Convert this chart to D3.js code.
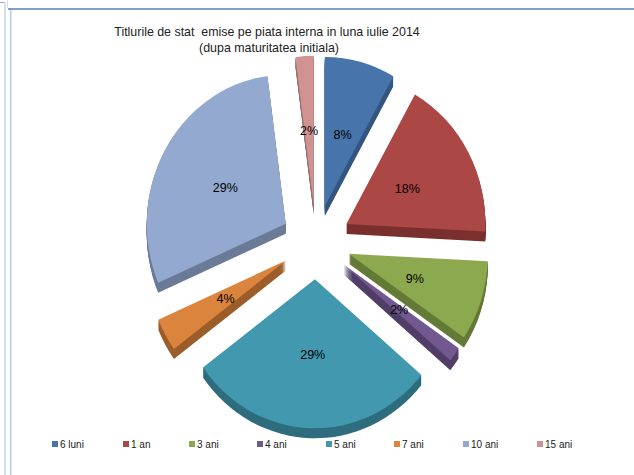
<!DOCTYPE html>
<html>
<head>
<meta charset="utf-8">
<script src="https://cdn.jsdelivr.net/npm/d3@7"></script>
<style>
  body { margin: 0; background: #fff; }
  svg { display: block; font-family: "Liberation Sans", Arial, sans-serif; fill: #000; }
</style>
</head>
<body>
<svg id="chart" width="634" height="475"></svg>
<script>
const categories = ["6 luni", "1 an", "3 ani", "4 ani", "5 ani", "7 ani", "10 ani", "15 ani"];
const shares = [8.2, 17.6, 8.7, 1.6, 28.8, 3.6, 29.4, 2.1];
const topColors = ["#4674ab", "#ab4744", "#8da94f", "#71588f", "#4198af", "#db843d", "#93a9cf", "#d19392"];
const wallColors = ["#345680", "#7a302e", "#647a37", "#513e68", "#2f6d7e", "#9c5e2b", "#6b7b98", "#957070"];
const titleLines = ["Titlurile de stat  emise pe piata interna in luna iulie 2014", "(dupa maturitatea initiala)"];
const legendX = [52, 123, 189, 257, 326, 394, 463, 537];

const cx = 316;
const cy = 242;
const radiusY = 149;
const squash = 139 / 149;
const explode = 0.25;
const depth = 10;

const svg = d3.select("#chart");

// page frame behind the chart
const frame = svg.append("g").attr("fill", "none");
frame.append("path").attr("d", "M0 2.5H5").attr("stroke", "#8fabd6");
frame.append("rect").attr("x", 4).attr("y", 2).attr("width", 2).attr("height", 473).attr("fill", "#d3dff2");
frame.append("rect").attr("x", 7).attr("y", 0).attr("width", 1).attr("height", 8).attr("fill", "#d3dff2");
frame.append("rect").attr("x", 8).attr("y", 8).attr("width", 626).attr("height", 2).attr("fill", "#7f9fd0");
frame.append("rect").attr("x", 10).attr("y", 10).attr("width", 1.5).attr("height", 465).attr("fill", "#b8cbe9");

svg.append("g")
  .selectAll("text")
  .data(titleLines)
  .join("text")
  .attr("x", (d, i) => (i == 0 ? 267 : 269))
  .attr("y", (d, i) => 36 + i * 15.5)
  .attr("text-anchor", "middle")
  .attr("font-size", 12.4)
  .attr("fill", "#222")
  .attr("xml:space", "preserve")
  .text(d => d);

const pie = d3.pie().sort(null).value(d => d);
const arcs = pie(shares);
const arc = d3.arc().innerRadius(0).outerRadius(radiusY);
const percent = d3.format(".0%");
const total = d3.sum(shares);

const slices = svg.append("g")
  .selectAll("g")
  .data(arcs)
  .join("g")
  .attr("transform", d => {
    const mid = (d.startAngle + d.endAngle) / 2;
    const dx = Math.sin(mid) * radiusY * explode * squash;
    const dy = -Math.cos(mid) * radiusY * explode;
    return `translate(${cx + dx},${cy + dy}) scale(${squash},1)`;
  });

// the side walls: same slice stacked downward, darkest first
slices.each(function (d, i) {
  const g = d3.select(this);
  for (let k = depth; k > 0; k--) {
    g.append("path")
      .attr("d", arc(d))
      .attr("transform", `translate(0,${k})`)
      .attr("fill", wallColors[i]);
  }
  g.append("path")
    .attr("d", arc(d))
    .attr("fill", topColors[i]);
});

svg.append("g")
  .selectAll("text")
  .data(arcs)
  .join("text")
  .attr("x", d => {
    const mid = (d.startAngle + d.endAngle) / 2;
    return cx + Math.sin(mid) * radiusY * squash * (explode + 0.5);
  })
  .attr("y", d => {
    const mid = (d.startAngle + d.endAngle) / 2;
    return cy - Math.cos(mid) * radiusY * (explode + 0.5) + 5;
  })
  .attr("text-anchor", "middle")
  .attr("font-size", 12.5)
  .text(d => percent(d.value / total));

const legend = svg.append("g")
  .selectAll("g")
  .data(categories)
  .join("g")
  .attr("transform", (d, i) => `translate(${legendX[i]},441)`);

legend.append("rect")
  .attr("width", 6)
  .attr("height", 6)
  .attr("fill", (d, i) => topColors[i]);

legend.append("text")
  .attr("x", 8)
  .attr("y", 7)
  .attr("font-size", 10)
  .attr("fill", "#222")
  .text(d => d);
</script>
</body>
</html>
